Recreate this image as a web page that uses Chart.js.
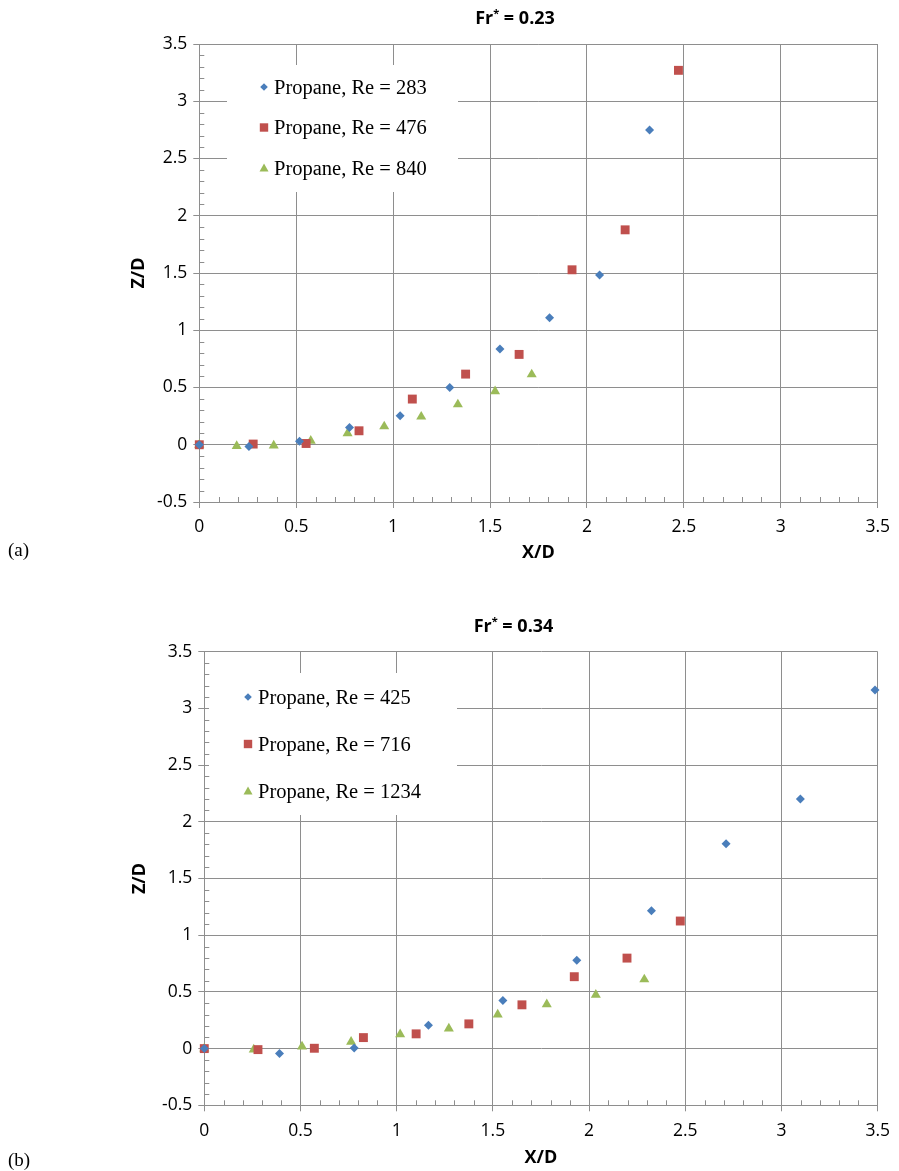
<!DOCTYPE html>
<html>
<head>
<meta charset="utf-8">
<script src="https://cdn.jsdelivr.net/npm/chart.js"></script>
<style>
  body { margin:0; background:#fff; width:899px; height:1171px; position:relative; overflow:hidden; }
  .wrap { position:absolute; left:0; width:899px; }
  .tag { position:absolute; left:8px; font-family:"Liberation Serif", serif; font-size:19px; color:#000; }
</style>
</head>
<body>
<div class="wrap" style="top:0;height:580px"><canvas id="chartA"></canvas></div>
<div class="wrap" style="top:585px;height:586px"><canvas id="chartB"></canvas></div>
<div class="tag" style="top:539px">(a)</div>
<div class="tag" style="top:1149px">(b)</div>
<script>
// axis ticks
const xTickVals = [0, 0.5, 1, 1.5, 2, 2.5, 3, 3.5];
const yTickVals = [-0.5, 0, 0.5, 1, 1.5, 2, 2.5, 3, 3.5];

// (a) Fr* = 0.23
const labelsA = ['Propane, Re = 283', 'Propane, Re = 476', 'Propane, Re = 840'];
const a283X = [0, 0.256, 0.517, 0.775, 1.036, 1.292, 1.551, 1.807, 2.065, 2.323];
const a283Y = [0, -0.015, 0.03, 0.15, 0.253, 0.50, 0.836, 1.109, 1.482, 2.75];
const a476X = [0, 0.278, 0.551, 0.824, 1.099, 1.374, 1.650, 1.923, 2.197, 2.472];
const a476Y = [0, 0.006, 0.011, 0.122, 0.399, 0.617, 0.789, 1.528, 1.877, 3.27];
const a840X = [0, 0.193, 0.384, 0.575, 0.765, 0.954, 1.145, 1.334, 1.526, 1.715];
const a840Y = [0, -0.012, -0.008, 0.035, 0.10, 0.16, 0.245, 0.352, 0.466, 0.614];

// (b) Fr* = 0.34
const labelsB = ['Propane, Re = 425', 'Propane, Re = 716', 'Propane, Re = 1234'];
const b425X = [0, 0.391, 0.779, 1.165, 1.552, 1.936, 2.324, 2.712, 3.098, 3.486];
const b425Y = [0, -0.044, 0.006, 0.206, 0.424, 0.779, 1.216, 1.807, 2.200, 3.162];
const b716X = [0, 0.279, 0.572, 0.827, 1.101, 1.375, 1.651, 1.923, 2.197, 2.474];
const b716Y = [0, -0.009, 0.003, 0.097, 0.130, 0.218, 0.386, 0.634, 0.798, 1.125];
const b1234X = [0, 0.257, 0.508, 0.763, 1.018, 1.271, 1.525, 1.780, 2.035, 2.287];
const b1234Y = [0, -0.009, 0.018, 0.059, 0.126, 0.177, 0.300, 0.39, 0.474, 0.61];

const colors = ['#4a7ebb', '#c0504d', '#9bbb59'];
const shapes = ['rectRot', 'rect', 'triangle'];
const radii = [4.5, 6.3, 5.8];
const legendSize = [3.8, 4.2, 4.5];
const gridColor = '#8e8e8e';

Chart.defaults.font.family = '"Open Sans", sans-serif';
Chart.defaults.color = '#000';

const pts = (xs, ys) => xs.map((x, i) => ({ x, y: ys[i] }));

function marker(ctx, style, cx, cy, color, s) {
  ctx.fillStyle = color;
  ctx.beginPath();
  if (style === 'rectRot') {
    ctx.moveTo(cx, cy - s); ctx.lineTo(cx + s, cy); ctx.lineTo(cx, cy + s); ctx.lineTo(cx - s, cy);
  } else if (style === 'rect') {
    ctx.rect(cx - s, cy - s, 2 * s, 2 * s);
  } else {
    ctx.moveTo(cx, cy - s); ctx.lineTo(cx + s, cy + s * 0.8); ctx.lineTo(cx - s, cy + s * 0.8);
  }
  ctx.closePath();
  ctx.fill();
}

// legend box, minor ticks and the Fr* title, drawn the Excel way
const decor = {
  id: 'decor',
  afterDraw(chart, args, o) {
    const ctx = chart.ctx, xs = chart.scales.x, ys = chart.scales.y, a = chart.chartArea;
    ctx.save();
    ctx.fillStyle = '#fff';
    ctx.fillRect(o.box[0], o.box[1], o.box[2], o.box[3]);
    chart.data.datasets.forEach((ds, i) => {
      const cy = o.rowY + i * o.rowGap;
      marker(ctx, ds.pointStyle, o.markX, cy, ds.backgroundColor, legendSize[i]);
      ctx.fillStyle = '#000';
      ctx.font = '20.5px "Liberation Serif", serif';
      ctx.textBaseline = 'alphabetic';
      ctx.fillText(ds.label, o.textX, cy + 6.5);
    });

    ctx.strokeStyle = gridColor;
    ctx.lineWidth = 1;
    ctx.beginPath();
    for (let k = -5; k <= 35; k++) {
      if (k % 5 === 0) continue;
      const py = Math.round(ys.getPixelForValue(k / 10)) + 0.5;
      ctx.moveTo(a.left, py); ctx.lineTo(a.left + 5, py);
    }
    for (let k = 1; k < 35; k++) {
      if (k % 5 === 0) continue;
      const px = Math.round(xs.getPixelForValue(k / 10)) + 0.5;
      ctx.moveTo(px, a.bottom); ctx.lineTo(px, a.bottom - 5);
    }
    ctx.stroke();

    // title with superscript star
    const big = 'bold 18px "Open Sans", sans-serif', small = 'bold 11px "Open Sans", sans-serif';
    ctx.font = big;
    const w1 = ctx.measureText('Fr').width, w3 = ctx.measureText(o.title).width;
    ctx.font = small;
    const w2 = ctx.measureText('*').width;
    let x0 = o.titleX - (w1 + w2 + w3) / 2;
    ctx.fillStyle = '#000';
    ctx.font = big; ctx.fillText('Fr', x0, o.titleBase);
    ctx.font = small; ctx.fillText('*', x0 + w1, o.titleBase - 7);
    ctx.font = big; ctx.fillText(o.title, x0 + w1 + w2, o.titleBase);
    ctx.restore();
  }
};

function makeChart(id, labels, series, lay, dec) {
  const datasets = series.map((s, i) => ({
    label: labels[i],
    data: pts(s[0], s[1]),
    pointStyle: shapes[i],
    pointRadius: radii[i],
    pointBorderWidth: 0,
    backgroundColor: colors[i],
    borderColor: colors[i],
    showLine: false,
    clip: false
  }));
  return new Chart(document.getElementById(id), {
    type: 'scatter',
    data: { datasets },
    plugins: [decor],
    options: {
      animation: false,
      responsive: true,
      maintainAspectRatio: false,
      layout: { padding: lay.padding },
      plugins: { legend: { display: false }, tooltip: { enabled: false }, decor: dec },
      scales: {
        x: {
          type: 'linear', min: 0, max: 3.5,
          afterBuildTicks: s => { s.ticks = xTickVals.map(v => ({ value: v })); },
          afterFit: s => { s.height = lay.xh; },
          grid: { color: gridColor, tickLength: 6 },
          border: { color: gridColor },
          ticks: { padding: 9, font: { size: 17.5 }, color: '#000', maxRotation: 0, autoSkip: false, callback: v => String(v) },
          title: { display: true, text: 'X/D', font: { size: 18, weight: 'bold' }, padding: 0, color: '#000' }
        },
        y: {
          type: 'linear', min: -0.5, max: 3.5,
          afterBuildTicks: s => { s.ticks = yTickVals.map(v => ({ value: v })); },
          afterFit: s => { s.width = lay.yw; },
          grid: { color: gridColor, tickLength: 6 },
          border: { color: gridColor },
          ticks: { padding: 6, font: { size: 17.5 }, color: '#000', autoSkip: false, callback: v => String(v) },
          title: { display: true, text: 'Z/D', font: { size: 18, weight: 'bold' }, padding: 0, color: '#000' }
        }
      }
    }
  });
}

makeChart('chartA', labelsA, [[a283X, a283Y], [a476X, a476Y], [a840X, a840Y]],
  { padding: { left: 128.2, top: 44, right: 16, bottom: 16.2 }, xh: 61.8, yw: 71.1 },
  { box: [227, 65, 231, 127], rowY: 87, rowGap: 40.5, markX: 264, textX: 274, title: ' = 0.23', titleX: 515, titleBase: 24 });

makeChart('chartB', labelsB, [[b425X, b425Y], [b716X, b716Y], [b1234X, b1234Y]],
  { padding: { left: 129.2, top: 66.7, right: 17.3, bottom: 2.2 }, xh: 63.5, yw: 75.1 },
  { box: [209, 88, 248, 142], rowY: 112, rowGap: 47, markX: 248, textX: 258, title: ' = 0.34', titleX: 513.5, titleBase: 47 });
</script>
</body>
</html>
